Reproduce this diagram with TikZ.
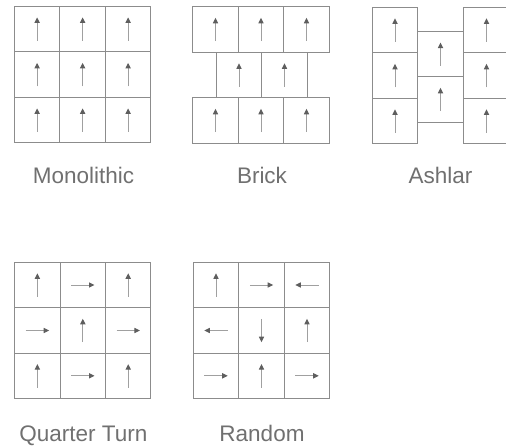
\documentclass[tikz,border=0pt]{standalone}
\usepackage{fontspec}
\setmainfont{Liberation Sans}
\usetikzlibrary{arrows.meta}
\usepackage{xcolor}
\definecolor{gridgray}{HTML}{8C8C8C}
\definecolor{shaftgray}{HTML}{A0A0A0}
\definecolor{tipgray}{HTML}{5E5E5E}
\definecolor{textgray}{HTML}{707070}

\begin{document}
\begin{tikzpicture}[
    x=1pt, y=-1pt,
    tile/.style={
        draw=gridgray,
        line width=1pt,
        minimum size=45.5pt,
        inner sep=0pt
    },
    dir/.style={
        draw=shaftgray,
        line width=1pt,
        -{Triangle[length=5.5pt,width=5.2pt,color=tipgray,fill=tipgray]}
    },
    pattname/.style={
        anchor=base,
        text=textgray,
        font=\fontsize{22.5}{27}\selectfont
    }
]
\useasboundingbox (0,0) rectangle (506,447);

% Monolithic
\foreach \r/\y in {1/29.1,2/74.6,3/120.1}
    \foreach \c/\x in {1/37.1,2/82.6,3/128.1} {
        \node[tile] (mono-\r\c) at (\x,\y) {};
        \draw[dir] (mono-\r\c.center) +(270:11.7pt) -- +(90:11.7pt);
    }
\node[pattname] (mono-name) at (83.6,183.3) {Monolithic};

% Brick
\foreach \r/\y in {1/29.5,3/120.5}
    \foreach \c/\x in {1/215.5,2/261,3/306.5} {
        \node[tile] (brick-\r\c) at (\x,\y) {};
        \draw[dir] (brick-\r\c.center) +(270:11.7pt) -- +(90:11.7pt);
    }
\foreach \c/\x in {1/239,2/284.5} {
    \node[tile] (brick-2\c) at (\x,75) {};
    \draw[dir] (brick-2\c.center) +(270:11.7pt) -- +(90:11.7pt);
}
\node[pattname] (brick-name) at (262,183.3) {Brick};

% Ashlar
\foreach \c/\x in {1/395,3/486.5}
    \foreach \r/\y in {1/30.1,2/75.6,3/121.1} {
        \node[tile] (ashlar-\r\c) at (\x,\y) {};
        \draw[dir] (ashlar-\r\c.center) +(270:11.7pt) -- +(90:11.7pt);
    }
\foreach \r/\y in {1/54.2,2/99.5} {
    \node[tile] (ashlar-\r2) at (440.5,\y) {};
    \draw[dir] (ashlar-\r2.center) +(270:11.7pt) -- +(90:11.7pt);
}
\node[pattname] (ashlar-name) at (440.5,183.3) {Ashlar};

% Quarter Turn
\foreach \r/\c/\x/\y/\a in {1/1/37.4/285/90, 1/2/82.8/285/0, 1/3/128.2/285/90,
                            2/1/37.4/330.5/0, 2/2/82.8/330.5/90, 2/3/128.2/330.5/0,
                            3/1/37.4/375.8/90, 3/2/82.8/375.8/0, 3/3/128.2/375.8/90} {
    \node[tile] (quarter-\r\c) at (\x,\y) {};
    \draw[dir] (quarter-\r\c.center) +(\a+180:11.7pt) -- +(\a:11.7pt);
}
\node[pattname] (quarter-name) at (83.3,441) {Quarter Turn};

% Random
\foreach \r/\c/\x/\y/\a in {1/1/216/285/90, 1/2/261.5/285/0, 1/3/307/285/180,
                            2/1/216/330.5/180, 2/2/261.5/330.5/270, 2/3/307/330.5/90,
                            3/1/216/375.8/0, 3/2/261.5/375.8/90, 3/3/307/375.8/0} {
    \node[tile] (random-\r\c) at (\x,\y) {};
    \draw[dir] (random-\r\c.center) +(\a+180:11.7pt) -- +(\a:11.7pt);
}
\node[pattname] (random-name) at (262,441) {Random};
\end{tikzpicture}
\end{document}
